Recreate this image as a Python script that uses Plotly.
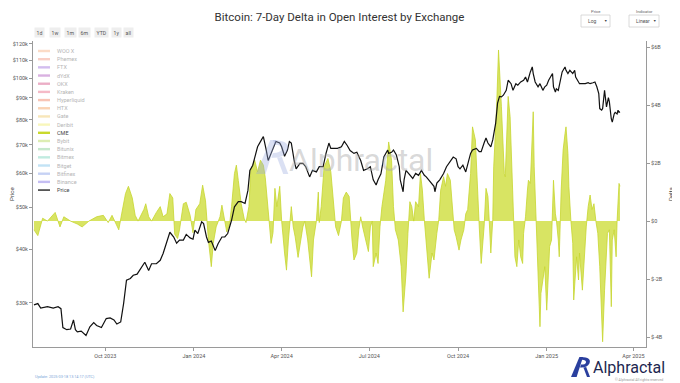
import math
import plotly.graph_objects as go

# ---------------- data ----------------
delta_dates = [
    "2023-07-19", "2023-07-23", "2023-07-28", "2023-08-02", "2023-08-10", "2023-08-15", "2023-08-19",
    "2023-08-26", "2023-09-02", "2023-09-07", "2023-09-14", "2023-09-22", "2023-09-29", "2023-10-04",
    "2023-10-08", "2023-10-11", "2023-10-15", "2023-10-18", "2023-10-22", "2023-10-25", "2023-10-29",
    "2023-11-01", "2023-11-04", "2023-11-10", "2023-11-12", "2023-11-15", "2023-11-18", "2023-11-23",
    "2023-11-27", "2023-11-30", "2023-12-04", "2023-12-07", "2023-12-10", "2023-12-12", "2023-12-15",
    "2023-12-17", "2023-12-21", "2023-12-24", "2023-12-28", "2023-12-31",
    "2024-01-03", "2024-01-07", "2024-01-10", "2024-01-13", "2024-01-16", "2024-01-19", "2024-01-21",
    "2024-01-24", "2024-01-28", "2024-01-30", "2024-02-02", "2024-02-04", "2024-02-07", "2024-02-09",
    "2024-02-12", "2024-02-14", "2024-02-16", "2024-02-19", "2024-02-22", "2024-02-24", "2024-02-27",
    "2024-02-29", "2024-03-04", "2024-03-07", "2024-03-10", "2024-03-13", "2024-03-15", "2024-03-18",
    "2024-03-19", "2024-03-21", "2024-03-23", "2024-03-25", "2024-03-27", "2024-03-30", "2024-04-01",
    "2024-04-04", "2024-04-06", "2024-04-08", "2024-04-11", "2024-04-13", "2024-04-15", "2024-04-18",
    "2024-04-21", "2024-04-23", "2024-04-25", "2024-04-28", "2024-05-02", "2024-05-04", "2024-05-07",
    "2024-05-09", "2024-05-10", "2024-05-12", "2024-05-15", "2024-05-19", "2024-05-22", "2024-05-25",
    "2024-05-27", "2024-05-30", "2024-06-02", "2024-06-04", "2024-06-07", "2024-06-10", "2024-06-11",
    "2024-06-13", "2024-06-15", "2024-06-18", "2024-06-20", "2024-06-22", "2024-06-24", "2024-06-27",
    "2024-06-30", "2024-07-02", "2024-07-04", "2024-07-05", "2024-07-08", "2024-07-10", "2024-07-12",
    "2024-07-14", "2024-07-18", "2024-07-21", "2024-07-24", "2024-07-26", "2024-07-28", "2024-07-31",
    "2024-08-03", "2024-08-05", "2024-08-08", "2024-08-10", "2024-08-12", "2024-08-14", "2024-08-16",
    "2024-08-18", "2024-08-21", "2024-08-23", "2024-08-25", "2024-08-27", "2024-08-29", "2024-09-01",
    "2024-09-04", "2024-09-06", "2024-09-09", "2024-09-11", "2024-09-13", "2024-09-16", "2024-09-18",
    "2024-09-20", "2024-09-23", "2024-09-25", "2024-09-27", "2024-09-29", "2024-10-02", "2024-10-04",
    "2024-10-07", "2024-10-09", "2024-10-11", "2024-10-14", "2024-10-16", "2024-10-19", "2024-10-21",
    "2024-10-23", "2024-10-25", "2024-10-28", "2024-10-30", "2024-11-01", "2024-11-02", "2024-11-04",
    "2024-11-06", "2024-11-07", "2024-11-10", "2024-11-12", "2024-11-15", "2024-11-16", "2024-11-18",
    "2024-11-19", "2024-11-22", "2024-11-24", "2024-11-26", "2024-11-28", "2024-11-29", "2024-12-01",
    "2024-12-03", "2024-12-05", "2024-12-07", "2024-12-08", "2024-12-10", "2024-12-12", "2024-12-13",
    "2024-12-15", "2024-12-18", "2024-12-19", "2024-12-21", "2024-12-23", "2024-12-25", "2024-12-26",
    "2024-12-28", "2024-12-30", "2025-01-01", "2025-01-03", "2025-01-04", "2025-01-06", "2025-01-08",
    "2025-01-10", "2025-01-11", "2025-01-13", "2025-01-14", "2025-01-16", "2025-01-18", "2025-01-20",
    "2025-01-21", "2025-01-23", "2025-01-24", "2025-01-26", "2025-01-28", "2025-01-29", "2025-01-31",
    "2025-02-01", "2025-02-03", "2025-02-04", "2025-02-07", "2025-02-09", "2025-02-11", "2025-02-13",
    "2025-02-15", "2025-02-17", "2025-02-19", "2025-02-21", "2025-02-23", "2025-02-25", "2025-02-27",
    "2025-02-28", "2025-03-02", "2025-03-04", "2025-03-05", "2025-03-07", "2025-03-09", "2025-03-10",
    "2025-03-12", "2025-03-14", "2025-03-15", "2025-03-17", "2025-03-18",
]
cme_delta_bn = [
    -0.3, -0.5, 0.1, 0.0, 0.3, -0.2, 0.15,
    0.0, -0.1, -0.2, 0.0, 0.15, 0.2, -0.05,
    0.2, 0.0, -0.3, 0.25, 0.95, 1.2, 0.8,
    0.2, 0.0, 0.4, 0.6, 0.15, 0.0, 0.3,
    0.5, 0.15, 0.25, 0.95, 0.8, -0.45, -0.6,
    -0.3, 0.6, 0.65, 0.2, -0.4,
    0.4, 0.6, 1.24, 0.7, -0.65, -1.57, -0.77,
    -0.2, 0.15, 0.55, 0.0, -0.37, -0.1, 0.5,
    1.64, 1.93, 1.4, 0.6, 0.1, -0.05, 0.5,
    1.76, 2.1, 1.7, 2.1, 1.93, 1.5, 0.55,
    0.0, -0.77, -0.4, 1.13, 0.5, 1.2, 0.0,
    -1.1, -1.69, -0.65, 0.5, -0.2, -0.54, -1.25,
    -0.65, -0.2, 0.0, -0.65, -1.92, -0.65, 0.0,
    1.0, -0.05, 0.5, 1.87, 2.16, 1.7, 0.7,
    -0.2, -0.5, 0.0, 0.8, 1.0, 0.85, 0.25,
    -0.65, -1.34, -1.1, -0.3, 0.15, -0.2, -0.65,
    -1.05, -0.2, 0.0, -1.57, -1.1, -1.46, -0.2,
    0.5, 1.41, 2.73, 2.1, 0.5, -0.3, -0.65,
    -1.57, -3.13, -1.8, -0.42, 0.67, 0.5, 0.0,
    0.67, 0.5, 1.64, 1.07, 0.05, -0.88, -1.97,
    -1.1, -1.34, -0.42, 0.05, 1.07, 1.53, 1.2,
    1.64, 1.41, 0.5, -0.3, -0.54, -1.0, -0.65,
    -0.3, 0.25, 0.4, 1.64, 3.25, 2.8, 1.07,
    -0.2, -1.46, -0.2, 1.13, 0.85, 0.25, -1.1,
    0.05, 1.87, 3.94, 5.9, 3.94, 3.25, 1.64,
    1.53, 4.3, 3.6, 1.64, -0.2, -1.23, -1.57,
    -0.65, -1.23, -1.46, -0.42, 0.15, 1.07, 1.41,
    1.3, 3.77, 1.87, 0.0, -1.69, -3.64, -2.49,
    -2.03, -1.57, -3.07, -1.8, -0.88, -0.65, 1.41,
    0.25, 0.05, -0.65, -1.23, 1.07, 2.45, 3.02,
    3.25, 2.33, 1.2, 0.05, -0.77, -2.72, -1.92,
    -1.23, -2.03, -1.1, -2.38, -1.23, -0.2, 0.5,
    0.9, 0.4, 0.6, 0.0, -0.42, -1.57, -2.95,
    -4.16, -2.38, -0.65, -0.42, -0.3, -2.95, -0.65,
    -0.3, -1.23, 0.0, 1.3, 1.2,
]

price_dates = [
    "2023-07-19", "2023-07-23", "2023-07-26", "2023-07-30", "2023-08-02", "2023-08-08", "2023-08-13",
    "2023-08-16", "2023-08-18", "2023-08-22", "2023-08-26", "2023-08-29", "2023-08-31", "2023-09-02",
    "2023-09-06", "2023-09-11", "2023-09-15", "2023-09-19", "2023-09-22", "2023-09-27", "2023-10-02",
    "2023-10-06", "2023-10-10", "2023-10-13", "2023-10-17", "2023-10-20", "2023-10-23", "2023-10-27",
    "2023-10-30", "2023-11-03", "2023-11-08", "2023-11-11", "2023-11-15", "2023-11-18", "2023-11-23",
    "2023-11-27", "2023-11-30", "2023-12-04", "2023-12-07", "2023-12-11", "2023-12-14", "2023-12-17",
    "2023-12-21", "2023-12-24", "2023-12-28", "2023-12-31",
    "2024-01-02", "2024-01-05", "2024-01-09", "2024-01-11", "2024-01-14", "2024-01-16", "2024-01-19",
    "2024-01-23", "2024-01-26", "2024-01-30", "2024-02-02", "2024-02-05", "2024-02-09", "2024-02-12",
    "2024-02-16", "2024-02-19", "2024-02-23", "2024-02-26", "2024-02-28", "2024-03-02", "2024-03-05",
    "2024-03-07", "2024-03-11", "2024-03-13", "2024-03-16", "2024-03-18", "2024-03-21", "2024-03-24",
    "2024-03-26", "2024-03-30", "2024-04-01", "2024-04-04", "2024-04-07", "2024-04-09", "2024-04-11",
    "2024-04-14", "2024-04-16", "2024-04-20", "2024-04-23", "2024-04-26", "2024-04-30", "2024-05-03",
    "2024-05-07", "2024-05-10", "2024-05-14", "2024-05-17", "2024-05-20", "2024-05-22", "2024-05-26",
    "2024-05-29", "2024-06-02", "2024-06-05", "2024-06-08", "2024-06-11", "2024-06-15", "2024-06-18",
    "2024-06-22", "2024-06-25", "2024-06-29", "2024-07-02", "2024-07-05", "2024-07-08", "2024-07-10",
    "2024-07-13", "2024-07-16", "2024-07-20", "2024-07-21", "2024-07-24", "2024-07-26", "2024-07-29",
    "2024-08-01", "2024-08-02", "2024-08-05", "2024-08-06", "2024-08-08", "2024-08-11", "2024-08-15",
    "2024-08-18", "2024-08-21", "2024-08-24", "2024-08-27", "2024-08-29", "2024-09-02", "2024-09-06",
    "2024-09-07", "2024-09-09", "2024-09-12", "2024-09-16", "2024-09-19", "2024-09-23", "2024-09-26",
    "2024-09-29", "2024-10-01", "2024-10-03", "2024-10-06", "2024-10-09", "2024-10-11", "2024-10-14",
    "2024-10-16", "2024-10-20", "2024-10-23", "2024-10-25", "2024-10-28", "2024-10-30", "2024-11-01",
    "2024-11-04", "2024-11-06", "2024-11-08", "2024-11-09", "2024-11-11", "2024-11-13", "2024-11-15",
    "2024-11-17", "2024-11-20", "2024-11-22", "2024-11-25", "2024-11-27", "2024-11-30", "2024-12-02",
    "2024-12-05", "2024-12-08", "2024-12-10", "2024-12-12", "2024-12-15", "2024-12-17", "2024-12-18",
    "2024-12-20", "2024-12-23", "2024-12-25", "2024-12-28", "2024-12-30", "2025-01-01", "2025-01-03",
    "2025-01-07", "2025-01-08", "2025-01-10", "2025-01-11", "2025-01-13", "2025-01-15", "2025-01-17",
    "2025-01-18", "2025-01-20", "2025-01-21", "2025-01-23", "2025-01-25", "2025-01-27", "2025-01-28",
    "2025-01-30", "2025-01-31", "2025-02-03", "2025-02-04", "2025-02-07", "2025-02-10", "2025-02-13",
    "2025-02-15", "2025-02-18", "2025-02-20", "2025-02-22", "2025-02-24", "2025-02-25", "2025-02-27",
    "2025-02-28", "2025-03-02", "2025-03-03", "2025-03-04", "2025-03-06", "2025-03-07", "2025-03-09",
    "2025-03-10", "2025-03-12", "2025-03-13", "2025-03-15", "2025-03-16", "2025-03-17", "2025-03-18",
]
price_usd = [
    29700, 29900, 29200, 29300, 29400, 29200, 29400,
    29100, 26300, 26000, 26100, 27400, 26000, 25700,
    25800, 25200, 26400, 27000, 26600, 26300, 27600,
    27700, 27400, 26800, 27100, 29900, 33900, 34200,
    34800, 35000, 36500, 37300, 35700, 37000, 37000,
    37700, 39100, 42000, 43800, 42700, 41300, 42000,
    42000, 43300, 42500, 42200,
    44300, 43500, 46300, 45900, 42700, 41500, 41800,
    39700, 41200, 42700, 42700, 43500, 46700, 50200,
    51600, 51600, 51100, 54800, 61000, 62700, 66800,
    69200, 71800, 73100, 68000, 64300, 66800, 69200,
    71200, 70600, 69200, 65800, 68000, 71200, 70600,
    64300, 61500, 63300, 63300, 62200, 58900, 61000,
    60500, 62200, 62200, 66800, 70600, 68600, 68600,
    68600, 69200, 71200, 69700, 67800, 66800, 67200,
    64300, 61000, 61500, 62200, 58000, 56400, 58000,
    59900, 65500, 68000, 66800, 67200, 68000, 66200,
    62200, 58000, 54400, 58000, 61000, 60000, 58400,
    60000, 59400, 61000, 59400, 58900, 57600, 56000,
    54400, 57000, 58000, 60000, 62200, 64300, 65500,
    64900, 62200, 61500, 62700, 60500, 62700, 66800,
    68000, 68600, 67400, 67400, 70600, 72500, 70600,
    69200, 71800, 75800, 78400, 87400, 90600, 90400,
    91200, 93600, 98800, 97000, 93600, 97000, 96200,
    97900, 98800, 100500, 97900, 103300, 106100, 102400,
    97900, 95400, 97000, 93600, 95400, 96200, 98800,
    102400, 95400, 92800, 94400, 93600, 98800, 103300,
    104200, 106100, 104200, 102400, 104200, 103300, 102400,
    104200, 100500, 97900, 97000, 97000, 97000, 97500,
    97000, 97500, 97900, 95400, 92000, 84900, 84200,
    84900, 93600, 89600, 85700, 90000, 88000, 80300,
    79000, 82500, 83200, 82500, 84200, 83200, 83500,
]

price_ticks = [30000, 40000, 50000, 60000, 70000, 80000, 90000, 100000, 110000, 120000]
price_tick_labels = ["$30k", "$40k", "$50k", "$60k", "$70k", "$80k", "$90k", "$100k", "$110k", "$120k"]
delta_ticks = [-4, -2, 0, 2, 4, 6]
delta_tick_labels = ["$-4B", "$-2B", "$0", "$2B", "$4B", "$6B"]

legend_names = ["WOO X", "Phemex", "FTX", "dYdX", "OKX", "Kraken", "Hyperliquid", "HTX", "Gate",
                "Deribit", "CME", "Bybit", "Bitunix", "Bitmex", "Bitget", "Bitfinex", "Binance", "Price"]
legend_colors = ["#f9b98e", "#f4a08c", "#a77de0", "#b565c4", "#d9608f", "#ec7890", "#f28b6e", "#f6a86c",
                 "#f2cf76", "#f3ef7a", "#c9d92c", "#bcdc6a", "#8fd39a", "#84d9c2", "#86c8ec", "#8fa6ea",
                 "#8d7fe8", "#111111"]
legend_shown = ["CME", "Price"]
range_buttons = ["1d", "1w", "1m", "6m", "YTD", "1y", "all"]

# ---------------- layout geometry ----------------
# The page body adds an 8px margin, so the figure is sized/offset to keep the
# plot exactly where it sits in the 680x383 reference screenshot.
OFF = 8
W, H = 680 - OFF, 383 - OFF
PLOT_L, PLOT_R, PLOT_T, PLOT_B = 33, 646, 41, 347        # screen pixels
ML, MT = PLOT_L - OFF, PLOT_T - OFF
MR, MB = W - (PLOT_R - OFF), H - (PLOT_B - OFF)
PW, PH = PLOT_R - PLOT_L, PLOT_B - PLOT_T
FONT = "Roboto, Arial, sans-serif"


def px(x):
    return (x - PLOT_L) / PW


def py(y):
    return (PLOT_B - y) / PH


fig = go.Figure()

fig.add_trace(go.Scatter(
    x=delta_dates, y=cme_delta_bn, name="CME", yaxis="y", mode="lines",
    fill="tozeroy", fillcolor="rgba(206,221,60,0.80)",
    line=dict(color="#c6d630", width=0.8), showlegend=False,
))
fig.add_trace(go.Scatter(
    x=price_dates, y=price_usd, name="Price", yaxis="y2", mode="lines",
    line=dict(color="#111111", width=1.2), showlegend=False,
))

shapes = []
annotations = []

# legend (drawn compactly, like the reference)
for i, (name, color) in enumerate(zip(legend_names, legend_colors)):
    yy = 51 + i * 8.18
    on = name in legend_shown
    is_line = name == "Price"
    shapes.append(dict(
        type="line", xref="paper", yref="paper",
        x0=px(38), x1=px(50), y0=py(yy), y1=py(yy),
        line=dict(color=color, width=1.3 if is_line else 2.4),
        opacity=1.0 if on else 0.5, layer="above",
    ))
    annotations.append(dict(
        xref="paper", yref="paper", x=px(55), y=py(yy), text=name, showarrow=False,
        xanchor="left", yanchor="middle",
        font=dict(family=FONT, size=5.5, color="#444" if on else "#b5b5b5"),
    ))

# range-selector style buttons
btn_centers = [39.5, 54.5, 70, 84, 101, 116, 128.5]
for label, cx in zip(range_buttons, btn_centers):
    annotations.append(dict(
        xref="paper", yref="paper", x=px(cx), y=py(32), text=label, showarrow=False,
        xanchor="center", yanchor="middle", bgcolor="#eeeeee", borderpad=1.6,
        font=dict(family=FONT, size=5.2, color="#555"),
    ))

# dropdown boxes
for label, val, x0, x1 in [("Price", "Log", 581, 610), ("Indicator", "Linear", 629, 659)]:
    shapes.append(dict(type="rect", xref="paper", yref="paper", x0=px(x0), x1=px(x1),
                       y0=py(27), y1=py(15), line=dict(color="#d0d0d0", width=0.8),
                       fillcolor="white", layer="above"))
    annotations.append(dict(xref="paper", yref="paper", x=px((x0 + x1) / 2), y=py(11.5), text=label,
                            showarrow=False, xanchor="center", yanchor="middle",
                            font=dict(family=FONT, size=4.2, color="#666")))
    annotations.append(dict(xref="paper", yref="paper", x=px(x0 + 5), y=py(21), text=val,
                            showarrow=False, xanchor="left", yanchor="middle",
                            font=dict(family=FONT, size=5, color="#555")))
    annotations.append(dict(xref="paper", yref="paper", x=px(x1 - 5), y=py(21), text="▼",
                            showarrow=False, xanchor="center", yanchor="middle",
                            font=dict(family=FONT, size=3.5, color="#444")))

# axis titles
annotations.append(dict(xref="paper", yref="paper", x=px(11), y=py(194), text="Price", textangle=-90,
                        showarrow=False, xanchor="center", yanchor="middle",
                        font=dict(family=FONT, size=6, color="#444")))
annotations.append(dict(xref="paper", yref="paper", x=px(670), y=py(194), text="Delta", textangle=-90,
                        showarrow=False, xanchor="center", yanchor="middle",
                        font=dict(family=FONT, size=6, color="#444")))

# watermark
annotations.append(dict(xref="paper", yref="paper", x=px(361), y=py(160), text="Alphractal",
                        showarrow=False, xanchor="center", yanchor="middle",
                        font=dict(family=FONT, size=32, color="rgba(170,170,170,0.45)")))


def logo_path(x0, y0, s):
    pts_a = [(0, 1), (0.42, 0), (0.6, 0), (0.28, 1)]
    a = "M " + " L ".join(f"{px(x0 + u * s)},{py(y0 + v * s)}" for u, v in pts_a) + " Z"
    p = (f"M {px(x0 + 0.5 * s)},{py(y0)} "
         f"Q {px(x0 + 1.05 * s)},{py(y0 + 0.02 * s)} {px(x0 + 0.92 * s)},{py(y0 + 0.32 * s)} "
         f"Q {px(x0 + 0.8 * s)},{py(y0 + 0.55 * s)} {px(x0 + 0.45 * s)},{py(y0 + 0.52 * s)} "
         f"L {px(x0 + 0.5 * s)},{py(y0 + 0.38 * s)} "
         f"Q {px(x0 + 0.72 * s)},{py(y0 + 0.38 * s)} {px(x0 + 0.75 * s)},{py(y0 + 0.27 * s)} "
         f"Q {px(x0 + 0.76 * s)},{py(y0 + 0.14 * s)} {px(x0 + 0.55 * s)},{py(y0 + 0.14 * s)} Z")
    leg = [(0.62, 0.52), (0.8, 1), (0.95, 1), (0.76, 0.5)]
    r = "M " + " L ".join(f"{px(x0 + u * s)},{py(y0 + v * s)}" for u, v in leg) + " Z"
    return a, p, r


for part in logo_path(256, 140, 34):
    shapes.append(dict(type="path", xref="paper", yref="paper", path=part,
                       fillcolor="rgba(150,165,220,0.35)", line=dict(width=0), layer="above"))
for part in logo_path(571, 357, 20):
    shapes.append(dict(type="path", xref="paper", yref="paper", path=part,
                       fillcolor="#2a3f9e", line=dict(width=0), layer="above"))

annotations.append(dict(xref="paper", yref="paper", x=px(591), y=py(367), text="Alphractal",
                        showarrow=False, xanchor="left", yanchor="middle",
                        font=dict(family=FONT, size=16, color="#1d2750")))
annotations.append(dict(xref="paper", yref="paper", x=px(665), y=py(379.5),
                        text="© Alphractal All rights reserved", showarrow=False,
                        xanchor="right", yanchor="middle",
                        font=dict(family=FONT, size=3.5, color="#9a9a9a")))
annotations.append(dict(xref="paper", yref="paper", x=px(33), y=py(376.5),
                        text="Update: 2025-03-18 13:14:17 (UTC)", showarrow=False,
                        xanchor="left", yanchor="middle",
                        font=dict(family=FONT, size=3.8, color="#7ea6d8")))

axis_common = dict(showgrid=False, zeroline=False, showline=True, linecolor="#9a9a9a", linewidth=1,
                   ticks="outside", ticklen=3, tickcolor="#9a9a9a", automargin=False,
                   tickfont=dict(family=FONT, size=5.5, color="#555"))

fig.update_layout(
    width=W, height=H,
    margin=dict(l=ML, r=MR, t=MT, b=MB, pad=0, autoexpand=False),
    paper_bgcolor="white", plot_bgcolor="white",
    font=dict(family=FONT),
    title=dict(text="Bitcoin: 7-Day Delta in Open Interest by Exchange", x=0.5, xanchor="center",
               xref="paper", y=1 - (17 - OFF) / H, yanchor="middle",
               font=dict(family=FONT, size=11.5, color="#333")),
    showlegend=False,
    xaxis=dict(type="date", range=["2023-07-18", "2025-04-14"], dtick="M3", tick0="2023-10-01",
               tickformat="%b %Y", **axis_common),
    yaxis=dict(side="right", range=[-4.34, 6.21], tickvals=delta_ticks, ticktext=delta_tick_labels,
               **axis_common),
    yaxis2=dict(side="left", overlaying="y", type="log",
                range=[math.log10(23700), math.log10(121900)],
                tickvals=price_ticks, ticktext=price_tick_labels,
                **axis_common),
    shapes=shapes,
    annotations=annotations,
)

fig.write_html("out.html")
